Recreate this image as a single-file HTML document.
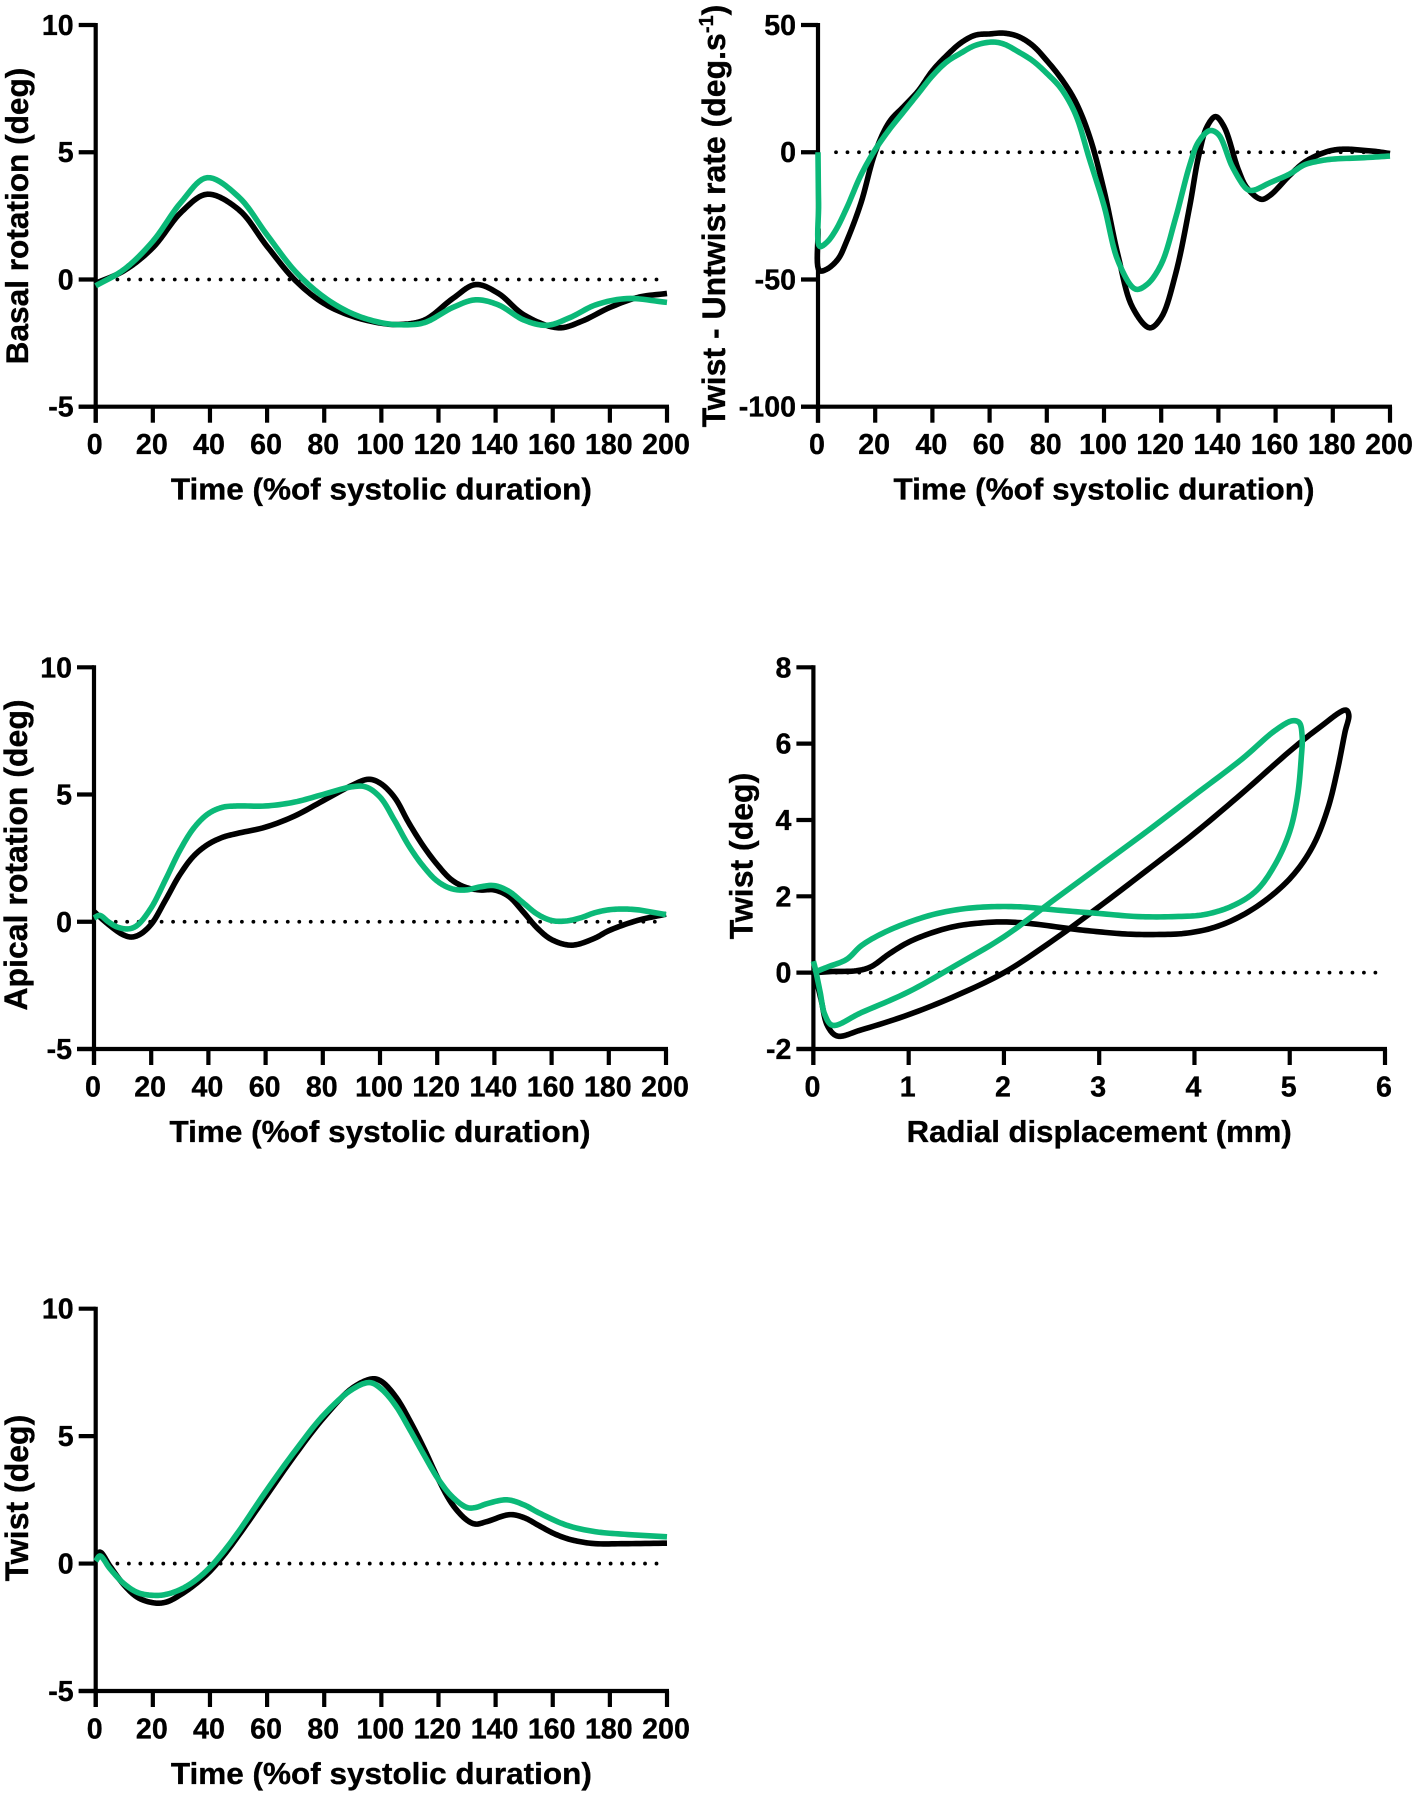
<!DOCTYPE html>
<html lang="en">
<head>
<meta charset="utf-8">
<title>Rotation and twist curves</title>
<style>
html,body{margin:0;padding:0;background:#fff;width:1417px;height:1796px;overflow:hidden}
svg{display:block}
text{font-family:"Liberation Sans",Arial,sans-serif;font-weight:700;fill:#000;stroke:#000;stroke-width:0.35px}
</style>
</head>
<body>
<svg id="figure" xmlns="http://www.w3.org/2000/svg" width="1417" height="1796" viewBox="0 0 1417 1796"></svg>
<script>
// ---- tick labels ----
const timeTicks = [0,20,40,60,80,100,120,140,160,180,200];
const rotationTicks = [-5,0,5,10];
const rateTicks = [-100,-50,0,50];
const loopXTicks = [0,1,2,3,4,5,6];
const loopYTicks = [-2,0,2,4,6,8];

// ---- basal rotation ----
const basalTimeBlack = [0,10,20,30,39,50,60,70,80,90,100,106,115,125,133,141,150,162,170,180,190,200];
const basalBlack = [-0.15,0.35,1.25,2.65,3.35,2.75,1.3,-0.05,-0.95,-1.45,-1.72,-1.77,-1.6,-0.75,-0.2,-0.55,-1.4,-1.9,-1.65,-1.1,-0.7,-0.55];
const basalTimeGreen = [0,10,20,30,39,50,60,70,80,90,100,107,115,125,133,141,150,158,166,175,186,200];
const basalGreen = [-0.25,0.4,1.5,3.05,4.0,3.25,1.75,0.3,-0.7,-1.35,-1.7,-1.78,-1.7,-1.1,-0.8,-1.0,-1.6,-1.8,-1.5,-1.0,-0.75,-0.9];

// ---- twist / untwist rate ----
const rateTimeBlack = [0,0.5,3,7,10,15,20,25,30,35,40,45,50,55,60,65,70,75,80,85,90,95,100,105,110,116,120,125,130,133,136,139,142,147,150,155,158,165,170,175,180,185,190,195,200];
const rateBlack = [-30,-46.5,-46,-42,-35,-20,0,12,18,24,32,38,43,46,46.5,46.8,45.5,42,36,29,20,6,-15,-41,-61,-69,-65,-48,-21,-2,10,14,10,-7,-14,-18.5,-17,-9,-4,-1,0.8,1.2,0.8,0.3,-0.5];
const rateTimeGreen = [0,0.2,0.6,3,6,10,15,20,25,30,35,40,45,50,55,61,65,70,75,80,85,90,95,100,105,111,115,120,125,130,133,137,140,145,150,152,158,165,170,175,180,190,200];
const rateGreen = [0,-20,-37,-35.5,-31,-22,-9,1,9,16,23,30,35.5,39,42,43.3,42.5,39.5,36,31,25,15,-3,-21,-43,-53.8,-52,-44,-26,-5,4,8.5,7,-6,-14.5,-15,-12,-8.5,-5,-3.5,-2.7,-2.2,-1.5];

// ---- apical rotation ----
const apicalTimeBlack = [0,5,10,13,16,20,25,30,35,40,45,50,60,70,80,90,96,100,105,110,115,120,125,130,135,140,145,150,155,160,167,175,180,190,200];
const apicalBlack = [0.4,-0.1,-0.5,-0.6,-0.5,-0.1,0.85,1.85,2.6,3.05,3.32,3.47,3.72,4.15,4.75,5.35,5.6,5.45,4.9,3.9,3.0,2.25,1.65,1.35,1.25,1.25,1.0,0.4,-0.25,-0.7,-0.92,-0.65,-0.35,0.05,0.3];
const apicalTimeGreen = [0,2,5,8,12,15,20,25,30,35,40,45,50,60,70,80,90,95,100,105,110,115,120,125,130,135,140,145,150,155,160,165,170,175,180,185,190,195,200];
const apicalGreen = [0.15,0.25,0.0,-0.2,-0.28,-0.15,0.55,1.65,2.8,3.7,4.25,4.5,4.55,4.55,4.7,5.0,5.3,5.3,4.9,4.0,3.0,2.2,1.6,1.3,1.25,1.37,1.42,1.2,0.75,0.3,0.05,0.03,0.15,0.35,0.47,0.5,0.47,0.38,0.28];

// ---- twist vs radial displacement loop ----
const loopDispBlack = [0,0.2,0.45,0.6,0.8,1.0,1.25,1.5,1.75,2,2.3,2.7,3.0,3.3,3.6,3.9,4.2,4.5,4.8,5.05,5.25,5.4,5.5,5.58,5.62,5.59,5.3,5.0,4.5,4.0,3.5,3.0,2.5,2.0,1.5,1.0,0.5,0.25,0.15,0.08,0.03,0];
const loopTwistBlack = [0,0.03,0.05,0.15,0.5,0.8,1.05,1.22,1.3,1.33,1.28,1.15,1.07,1.01,1.0,1.03,1.18,1.5,2.0,2.6,3.35,4.3,5.3,6.3,6.75,6.88,6.4,5.8,4.7,3.65,2.68,1.73,0.82,0,-0.6,-1.1,-1.5,-1.66,-1.4,-0.7,-0.2,0];
const loopDispGreen = [0,0.15,0.35,0.5,0.7,1,1.3,1.6,1.9,2.2,2.6,3.0,3.4,3.8,4.1,4.4,4.65,4.85,5,5.08,5.12,5.13,5.1,5.03,4.85,4.5,4,3.5,3,2.5,2,1.5,1,0.5,0.2,0.12,0.07,0.02,0];
const loopTwistGreen = [0,0.15,0.35,0.7,1.0,1.32,1.55,1.68,1.73,1.72,1.63,1.55,1.47,1.47,1.52,1.75,2.15,2.85,3.7,4.6,5.6,6.2,6.55,6.6,6.35,5.6,4.65,3.7,2.78,1.86,0.94,0.2,-0.5,-1.05,-1.38,-1.1,-0.5,0.1,0.3];

// ---- twist ----
const twistTimeBlack = [0,1.5,5,10,15,21,25,30,35,40,45,50,60,70,80,90,97,100,105,110,115,120,125,130,133,137,145,150,155,160,165,170,175,185,200];
const twistBlack = [0.3,0.45,-0.1,-0.85,-1.35,-1.55,-1.5,-1.2,-0.8,-0.3,0.35,1.1,2.7,4.3,5.75,6.9,7.25,7.15,6.55,5.6,4.5,3.3,2.3,1.7,1.55,1.65,1.92,1.8,1.5,1.2,0.98,0.85,0.78,0.78,0.8];
const twistTimeGreen = [0,1.5,5,10,15,21,25,30,35,40,45,50,60,70,80,90,96,100,105,110,115,120,125,130,133,137,144,150,155,165,175,185,200];
const twistGreen = [0.1,0.3,-0.2,-0.8,-1.15,-1.25,-1.2,-1.0,-0.65,-0.15,0.5,1.25,2.9,4.45,5.85,6.85,7.1,6.85,6.2,5.25,4.25,3.3,2.6,2.2,2.2,2.35,2.5,2.3,2.0,1.5,1.25,1.15,1.05];

const svgNS = 'http://www.w3.org/2000/svg';
const figure = document.getElementById('figure');
const BLACK = '#000';
const GREEN = '#0BB978';

function make(tag, attrs, parent) {
  const el = document.createElementNS(svgNS, tag);
  for (const k in attrs) el.setAttribute(k, attrs[k]);
  parent.appendChild(el);
  return el;
}

// Centripetal Catmull-Rom through pixel points, returned as a polyline path
function smoothPath(px, py) {
  const n = px.length;
  const pts = [];
  for (let i = 0; i < n; i++) pts.push([px[i], py[i]]);
  const get = i => {
    if (i < 0) return [2 * pts[0][0] - pts[1][0], 2 * pts[0][1] - pts[1][1]];
    if (i >= n) return [2 * pts[n - 1][0] - pts[n - 2][0], 2 * pts[n - 1][1] - pts[n - 2][1]];
    return pts[i];
  };
  const knot = (t, a, b) => t + Math.max(Math.pow(Math.hypot(b[0] - a[0], b[1] - a[1]), 0.5), 1e-3);
  let d = 'M' + pts[0][0].toFixed(2) + ' ' + pts[0][1].toFixed(2);
  for (let i = 0; i < n - 1; i++) {
    const p0 = get(i - 1), p1 = get(i), p2 = get(i + 1), p3 = get(i + 2);
    const t0 = 0, t1 = knot(t0, p0, p1), t2 = knot(t1, p1, p2), t3 = knot(t2, p2, p3);
    for (let s = 1; s <= 10; s++) {
      const t = t1 + (t2 - t1) * s / 10;
      const out = [0, 1].map(c => {
        const a1 = (t1 - t) / (t1 - t0) * p0[c] + (t - t0) / (t1 - t0) * p1[c];
        const a2 = (t2 - t) / (t2 - t1) * p1[c] + (t - t1) / (t2 - t1) * p2[c];
        const a3 = (t3 - t) / (t3 - t2) * p2[c] + (t - t2) / (t3 - t2) * p3[c];
        const b1 = (t2 - t) / (t2 - t0) * a1 + (t - t0) / (t2 - t0) * a2;
        const b2 = (t3 - t) / (t3 - t1) * a2 + (t - t1) / (t3 - t1) * a3;
        return (t2 - t) / (t2 - t1) * b1 + (t - t1) / (t2 - t1) * b2;
      });
      d += 'L' + out[0].toFixed(2) + ' ' + out[1].toFixed(2);
    }
  }
  return d;
}

function drawPanel(cfg) {
  const g = make('g', {}, figure);
  
  
  const x = v => cfg.left + (v - cfg.xMin) / (cfg.xMax - cfg.xMin) * (cfg.right - cfg.left);
  const y = v => cfg.bottom - (v - cfg.yMin) / (cfg.yMax - cfg.yMin) * (cfg.bottom - cfg.top);

  // zero reference line
  const zero = make('line', {x1: x(cfg.dotFrom), x2: x(cfg.dotTo), y1: y(0), y2: y(0), stroke: '#000', 'stroke-width': 3.8, 'stroke-linecap': 'round', 'stroke-dasharray': '0 ' + cfg.dotGap}, g);
  
  

  // axes
  const yAxis = make('line', {x1: cfg.left, x2: cfg.left, y1: cfg.top - 2, y2: cfg.bottom + 16, stroke: '#000', 'stroke-width': 4.2}, g);
  
  
  const xAxis = make('line', {x1: cfg.left - 17, x2: cfg.right + 2, y1: cfg.bottom, y2: cfg.bottom, stroke: '#000', 'stroke-width': 4.2}, g);
  
  

  cfg.xTicks.forEach(v => {
    const tick = make('line', {x1: x(v), x2: x(v), y1: cfg.bottom, y2: cfg.bottom + 16, stroke: '#000', 'stroke-width': 4.2}, g);
    
    
    const label = make('text', {x: x(v) - 1, y: cfg.bottom + 47.5, 'text-anchor': 'middle', 'font-size': 28.6}, g);
    label.textContent = v;
    
    
  });
  cfg.yTicks.forEach(v => {
    const tick = make('line', {x1: cfg.left - 17, x2: cfg.left, y1: y(v), y2: y(v), stroke: '#000', 'stroke-width': 4.2}, g);
    
    
    const label = make('text', {x: cfg.left - 22, y: y(v) + 10, 'text-anchor': 'end', 'font-size': 28.6}, g);
    label.textContent = v;
    
    
  });

  // series (drawn above the axes, as in the reference)
  cfg.series.forEach(s => {
    const path = make('path', {d: smoothPath(s.xs.map(x), s.ys.map(y)), fill: 'none', stroke: s.color, 'stroke-width': 5.6, 'stroke-linejoin': 'round', 'stroke-linecap': 'butt'}, g);
    
    
  });

  // axis titles
  const xt = make('text', {x: (cfg.left + cfg.right) / 2, y: cfg.bottom + 93, 'text-anchor': 'middle', 'font-size': 30.5, textLength: cfg.xTitleLen, lengthAdjust: 'spacingAndGlyphs'}, g);
  xt.textContent = cfg.xTitle;
  
  

  const yt = make('text', {'text-anchor': 'middle', 'font-size': cfg.yTitleSize, transform: 'translate(' + cfg.yTitleX + ' ' + cfg.yTitleY + ') rotate(-90)'}, g);
  
  
  yt.textContent = cfg.yTitle;
  if (cfg.yTitleSup) {
    const sup = make('tspan', {dy: -12, 'font-size': 20}, yt);
    sup.textContent = cfg.yTitleSup;
    const close = make('tspan', {dy: 12}, yt);
    close.textContent = ')';
  }
}

drawPanel({
  name: 'basal-rotation-chart', left: 95.7, right: 667, top: 25, bottom: 406.7,
  xMin: 0, xMax: 200, yMin: -5, yMax: 10, xTicks: timeTicks, yTicks: rotationTicks,
  dotFrom: 7.6, dotTo: 197, dotGap: 11.47,
  xTitle: 'Time (%of systolic duration)', xTitleLen: 421, yTitle: 'Basal rotation (deg)', yTitleSize: 31.6, yTitleX: 28, yTitleY: 216,
  series: [
    {name: 'basal-rotation-black-line', xs: basalTimeBlack, ys: basalBlack, color: BLACK},
    {name: 'basal-rotation-green-line', xs: basalTimeGreen, ys: basalGreen, color: GREEN}
  ]
});

drawPanel({
  name: 'twist-untwist-rate-chart', left: 818, right: 1390, top: 25, bottom: 406.7,
  xMin: 0, xMax: 200, yMin: -100, yMax: 50, xTicks: timeTicks, yTicks: rateTicks,
  dotFrom: 6.3, dotTo: 197, dotGap: 11.47,
  xTitle: 'Time (%of systolic duration)', xTitleLen: 421, yTitle: 'Twist - Untwist rate (deg.s', yTitleSup: '-1', yTitleSize: 32, yTitleX: 725, yTitleY: 216,
  series: [
    {name: 'rate-black-line', xs: rateTimeBlack, ys: rateBlack, color: BLACK},
    {name: 'rate-green-line', xs: rateTimeGreen, ys: rateGreen, color: GREEN}
  ]
});

drawPanel({
  name: 'apical-rotation-chart', left: 94, right: 666, top: 667.3, bottom: 1049,
  xMin: 0, xMax: 200, yMin: -5, yMax: 10, xTicks: timeTicks, yTicks: rotationTicks,
  dotFrom: 7.6, dotTo: 197, dotGap: 11.47,
  xTitle: 'Time (%of systolic duration)', xTitleLen: 421, yTitle: 'Apical rotation (deg)', yTitleSize: 32, yTitleX: 27, yTitleY: 855,
  series: [
    {name: 'apical-rotation-black-line', xs: apicalTimeBlack, ys: apicalBlack, color: BLACK},
    {name: 'apical-rotation-green-line', xs: apicalTimeGreen, ys: apicalGreen, color: GREEN}
  ]
});

drawPanel({
  name: 'twist-vs-radial-displacement-chart', left: 813.4, right: 1385, top: 667.3, bottom: 1049,
  xMin: 0, xMax: 6, yMin: -2, yMax: 8, xTicks: loopXTicks, yTicks: loopYTicks,
  dotFrom: 0.12, dotTo: 5.92, dotGap: 11.47,
  xTitle: 'Radial displacement (mm)', xTitleLen: 385, yTitle: 'Twist (deg)', yTitleSize: 32, yTitleX: 752.6, yTitleY: 856,
  series: [
    {name: 'loop-black-line', xs: loopDispBlack, ys: loopTwistBlack, color: BLACK},
    {name: 'loop-green-line', xs: loopDispGreen, ys: loopTwistGreen, color: GREEN}
  ]
});

drawPanel({
  name: 'twist-chart', left: 95.7, right: 667, top: 1308.7, bottom: 1691,
  xMin: 0, xMax: 200, yMin: -5, yMax: 10, xTicks: timeTicks, yTicks: rotationTicks,
  dotFrom: 7.6, dotTo: 197, dotGap: 11.47,
  xTitle: 'Time (%of systolic duration)', xTitleLen: 421, yTitle: 'Twist (deg)', yTitleSize: 32, yTitleX: 28, yTitleY: 1498,
  series: [
    {name: 'twist-black-line', xs: twistTimeBlack, ys: twistBlack, color: BLACK},
    {name: 'twist-green-line', xs: twistTimeGreen, ys: twistGreen, color: GREEN}
  ]
});
</script>
</body>
</html>
